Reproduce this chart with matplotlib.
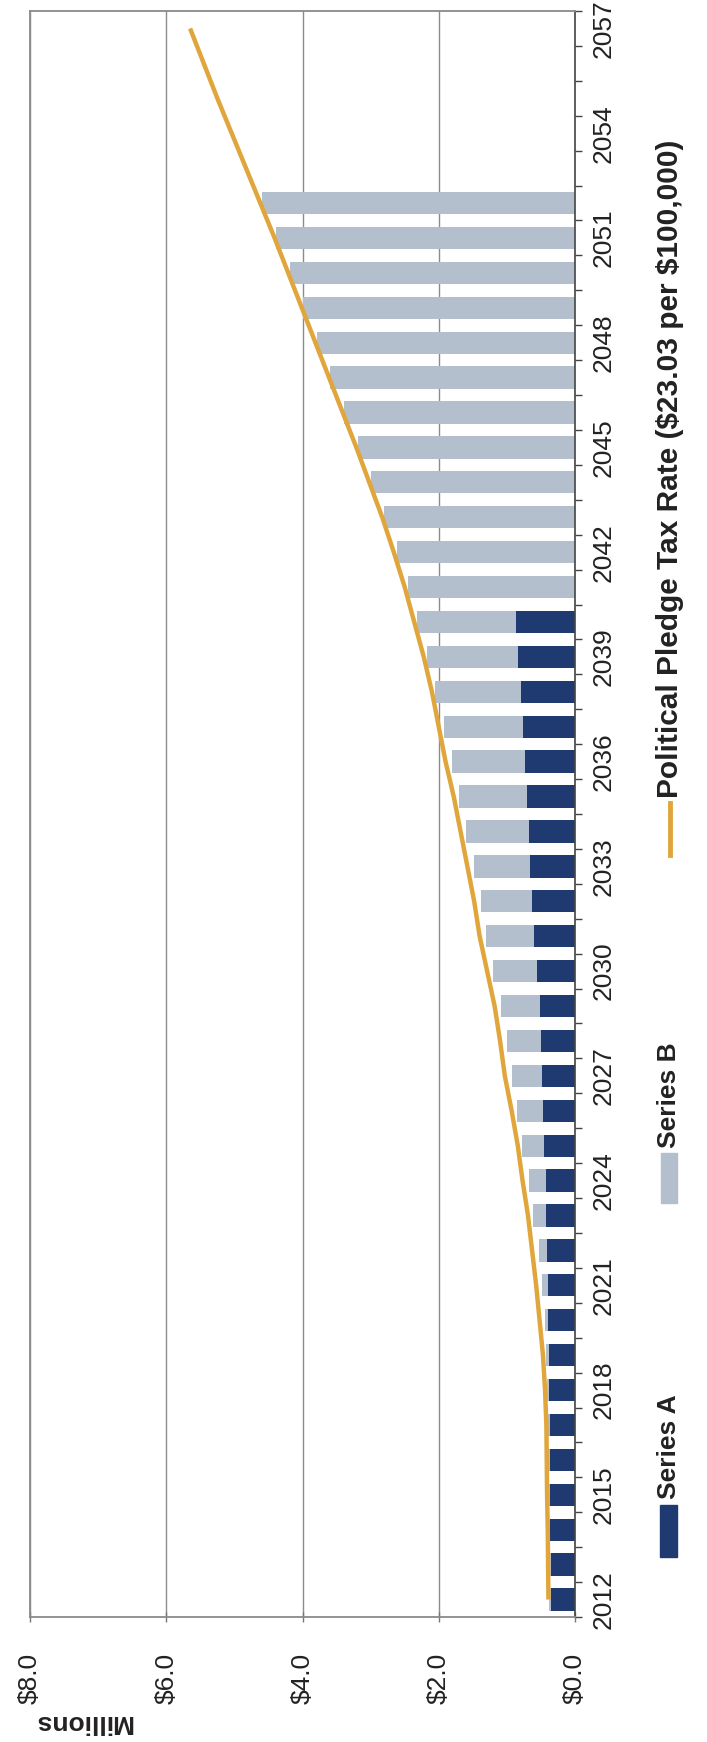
import numpy as np
import matplotlib
matplotlib.use("Agg")
import matplotlib.pyplot as plt
from matplotlib.patches import Rectangle
from matplotlib.lines import Line2D

plt.rcParams['font.family'] = ['Liberation Sans', 'DejaVu Sans']

# values in $ millions
years = list(range(2012, 2058))

years_a = list(range(2012, 2041))
series_a = [0.35, 0.355, 0.36, 0.36, 0.365, 0.37, 0.375, 0.38, 0.39, 0.40,
            0.41, 0.42, 0.43, 0.45, 0.47, 0.48, 0.50, 0.52, 0.56, 0.60,
            0.63, 0.66, 0.68, 0.70, 0.73, 0.76, 0.79, 0.84, 0.86]

years_b = list(range(2012, 2053))
series_b = [0.03, 0.03, 0.03, 0.03, 0.035, 0.03, 0.035, 0.04, 0.05, 0.08,
            0.12, 0.19, 0.25, 0.33, 0.38, 0.45, 0.50, 0.56, 0.64, 0.70,
            0.75, 0.82, 0.92, 1.00, 1.07, 1.17, 1.26, 1.33, 1.46,
            2.45, 2.62, 2.80, 3.00, 3.19, 3.39, 3.59, 3.79, 3.99, 4.19, 4.39, 4.60]

pledge_rate = [0.39, 0.395, 0.40, 0.41, 0.415, 0.42, 0.44,
               0.47, 0.52, 0.57, 0.63, 0.69, 0.77, 0.84, 0.93, 1.03, 1.10,
               1.18, 1.29, 1.40, 1.48, 1.58, 1.68, 1.78, 1.90, 2.00, 2.10,
               2.22, 2.36, 2.50, 2.66, 2.83, 3.02, 3.21, 3.41, 3.61, 3.81,
               4.01, 4.21, 4.41, 4.62, 4.83, 5.04, 5.25, 5.45, 5.65]

value_ticks = [0, 2, 4, 6, 8]
value_labels = ['\\$0.0', '\\$2.0', '\\$4.0', '\\$6.0', '\\$8.0']
year_ticks = list(range(2012, 2058, 3))

navy = '#1f3a70'
grey_blue = '#b4bfcd'
gold = '#e0a63c'
txt = '#222222'

W, H = 707, 1742
fig = plt.figure(figsize=(W / 100, H / 100), dpi=100)
ax = fig.add_axes([30 / W, 1 - 1617 / H, (575 - 30) / W, (1617 - 11) / H])

a_lookup = dict(zip(years_a, series_a))
left_b = [a_lookup.get(y, 0) for y in years_b]

ax.barh(years_a, series_a, height=0.64, color=navy, zorder=2)
ax.barh(years_b, series_b, left=left_b, height=0.64, color=grey_blue, zorder=2)
ax.plot(pledge_rate, years, color=gold, lw=3.2, zorder=3, solid_capstyle='butt')

ax.set_xlim(8, 0)
ax.set_ylim(2011.5, 2057.5)

ax.set_xticks(value_ticks)
ax.set_xticklabels(value_labels, rotation=90, fontsize=19, color=txt)
ax.tick_params(axis='x', direction='inout', length=7, width=1, color='#777777', pad=22)

ax.yaxis.tick_right()
ax.set_yticks(year_ticks)
ax.set_yticklabels([str(y) for y in year_ticks], fontsize=19, color=txt)
plt.setp(ax.get_yticklabels(), rotation=90, va='center', ha='left')
ax.set_yticks(np.arange(2011.5, 2058, 1), minor=True)
ax.tick_params(axis='y', which='major', length=0, pad=12)
ax.tick_params(axis='y', which='minor', length=5, width=1, color='#444444', direction='out')

ax.xaxis.grid(True, color='#8c8c8c', lw=1.0, zorder=0)
ax.set_axisbelow(True)

for side in ['left', 'top', 'bottom']:
    ax.spines[side].set_color('#8a8a8a')
    ax.spines[side].set_linewidth(1.3)
ax.spines['right'].set_color('#444444')
ax.spines['right'].set_linewidth(1.2)

fig.text(83 / W, 1 - 1722 / H, 'Millions', rotation=180, fontsize=19,
         fontweight='bold', color=txt, ha='center', va='center')

# legend, laid out sideways like the rest of the page
fig.add_artist(Rectangle((660 / W, 1 - 1557 / H), 17 / W, 52 / H,
                         transform=fig.transFigure, color=navy))
fig.text(669 / W, 1 - 1499 / H, 'Series A', rotation=90, fontsize=19,
         fontweight='bold', color=txt, ha='center', va='bottom')

fig.add_artist(Rectangle((661 / W, 1 - 1203 / H), 16 / W, 50 / H,
                         transform=fig.transFigure, color=grey_blue))
fig.text(669 / W, 1 - 1148 / H, 'Series B', rotation=90, fontsize=19,
         fontweight='bold', color=txt, ha='center', va='bottom')

fig.add_artist(Line2D([670 / W, 670 / W], [1 - 855 / H, 1 - 803 / H],
                      transform=fig.transFigure, color=gold, lw=3.5))
fig.text(670 / W, 1 - 798 / H, 'Political Pledge Tax Rate (\\$23.03 per \\$100,000)',
         rotation=90, fontsize=21.5, fontweight='bold', color=txt,
         ha='center', va='bottom')

fig.savefig('out.png', dpi=100)
